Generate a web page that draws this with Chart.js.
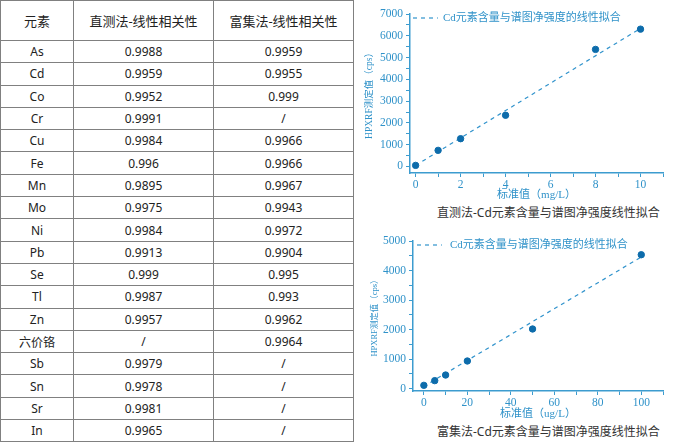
<!DOCTYPE html>
<html lang="zh-CN">
<head>
<meta charset="utf-8">
<title>Cd 线性拟合</title>
<script src="https://cdn.jsdelivr.net/npm/chart.js@4.4.1/dist/chart.umd.min.js"></script>
<style>
    html, body {
        margin: 0;
        padding: 0;
        background: #ffffff;
    }
    body {
        position: relative;
        width: 681px;
        height: 444px;
        overflow: hidden;
        font-family: 'Noto Sans', 'Noto Sans CJK SC', sans-serif;
        color: #222222;
    }
    #corrTable {
        position: absolute;
        left: 0;
        top: 0;
        border-collapse: collapse;
        table-layout: fixed;
        font-size: 12px;
    }
    #corrTable th, #corrTable td {
        border: 1px solid #808080;
        text-align: center;
        padding: 0;
        font-weight: normal;
    }
    #corrTable th {
        height: 39px;
        font-size: 13px;
    }
    #corrTable td {
        height: 21.3px;
    }
    .chart-box {
        position: absolute;
        left: 362px;
        width: 319px;
    }
    .caption {
        position: absolute;
        left: 437px;
        width: 200px;
        text-align: center;
        font-size: 12px;
        color: #333333;
        white-space: nowrap;
        line-height: 14px;
    }
</style>
</head>
<body>

<table id="corrTable">
    <colgroup>
        <col style="width:73px">
        <col style="width:140px">
        <col style="width:140px">
    </colgroup>
    <thead></thead>
    <tbody></tbody>
</table>

<div class="chart-box" style="top:0; height:202px;"><canvas id="directChart"></canvas></div>
<div class="caption" style="top:206px;">直测法-Cd元素含量与谱图净强度线性拟合</div>

<div class="chart-box" style="top:225px; height:196px;"><canvas id="enrichChart"></canvas></div>
<div class="caption" style="top:425px;">富集法-Cd元素含量与谱图净强度线性拟合</div>

<script>
// Table: linear correlation per element
const tableHeader = ['元素', '直测法-线性相关性', '富集法-线性相关性'];
const elements = ['As', 'Cd', 'Co', 'Cr', 'Cu', 'Fe', 'Mn', 'Mo', 'Ni', 'Pb', 'Se', 'Tl', 'Zn', '六价铬', 'Sb', 'Sn', 'Sr', 'In'];
const directR = ['0.9988', '0.9959', '0.9952', '0.9991', '0.9984', '0.996', '0.9895', '0.9975', '0.9984', '0.9913', '0.999', '0.9987', '0.9957', '/', '0.9979', '0.9978', '0.9981', '0.9965'];
const enrichR = ['0.9959', '0.9955', '0.999', '/', '0.9966', '0.9966', '0.9967', '0.9943', '0.9972', '0.9904', '0.995', '0.993', '0.9962', '0.9964', '/', '/', '/', '/'];

// Direct method (mg/L vs cps)
const directStd = [0, 1, 2, 4, 8, 10];
const directCps = [50, 740, 1275, 2350, 5375, 6305];
const directFitX = [0.3, 10];
const directFitY = [240, 6340];
const directXTicks = [0, 1, 2, 3, 4, 5, 6, 7, 8, 9, 10, 11];
const directYTicks = [0, 500, 1000, 1500, 2000, 2500, 3000, 3500, 4000, 4500, 5000, 5500, 6000, 6500, 7000];

// Enrichment method (ug/L vs cps)
const enrichStd = [0, 5, 10, 20, 50, 100];
const enrichCps = [112, 271, 461, 936, 2020, 4535];
const enrichFitX = [3, 100];
const enrichFitY = [210, 4460];
const enrichXTicks = [0, 10, 20, 30, 40, 50, 60, 70, 80, 90, 100, 110];
const enrichYTicks = [0, 500, 1000, 1500, 2000, 2500, 3000, 3500, 4000, 4500, 5000];

const fitLabel = 'Cd元素含量与谱图净强度的线性拟合';

const axisColor = '#3c9ccf';
const textColor = '#2f92c9';
const pointColor = '#0d6cab';
const lineColor = '#3193cc';
const serif = "'Liberation Serif', 'Noto Sans CJK SC', serif";

function buildTable() {
    const table = document.getElementById('corrTable');
    const headRow = document.createElement('tr');
    tableHeader.forEach(text => {
        const th = document.createElement('th');
        th.textContent = text;
        headRow.appendChild(th);
    });
    table.tHead.appendChild(headRow);

    elements.forEach((el, i) => {
        const tr = document.createElement('tr');
        [el, directR[i], enrichR[i]].forEach(text => {
            const td = document.createElement('td');
            td.textContent = text;
            tr.appendChild(td);
        });
        table.tBodies[0].appendChild(tr);
    });
}

// draws the legend inside the plot area, top-left, from the fit dataset
const insideLegend = {
    id: 'insideLegend',
    afterDraw(chart, args, opts) {
        const ds = chart.data.datasets.find(d => d.showLine);
        if (!ds) return;
        const { ctx, chartArea } = chart;
        const x = chartArea.left + opts.offsetX;
        const y = chartArea.top + opts.offsetY;
        ctx.save();
        ctx.strokeStyle = ds.borderColor;
        ctx.lineWidth = ds.borderWidth;
        ctx.setLineDash(ds.borderDash);
        ctx.beginPath();
        ctx.moveTo(x, y);
        ctx.lineTo(x + 25, y);
        ctx.stroke();
        ctx.setLineDash([]);
        ctx.fillStyle = textColor;
        ctx.font = '11px ' + serif;
        ctx.textBaseline = 'middle';
        ctx.fillText(ds.label, x + opts.textGap, y);
        ctx.restore();
    }
};

function makeFitChart(canvasId, cfg) {
    const points = cfg.xs.map((x, i) => ({ x: x, y: cfg.ys[i] }));
    const fit = cfg.fitX.map((x, i) => ({ x: x, y: cfg.fitY[i] }));

    return new Chart(document.getElementById(canvasId), {
        type: 'scatter',
        data: {
            datasets: [{
                label: '测定值',
                data: points,
                backgroundColor: pointColor,
                borderColor: pointColor,
                pointRadius: 3.2,
                pointHoverRadius: 3.2
            }, {
                label: fitLabel,
                data: fit,
                showLine: true,
                borderColor: lineColor,
                borderWidth: 1.2,
                borderDash: [4, 4],
                pointRadius: 0,
                fill: false
            }]
        },
        options: {
            responsive: true,
            maintainAspectRatio: false,
            animation: false,
            layout: { padding: cfg.padding },
            plugins: {
                legend: { display: false },
                tooltip: { enabled: false },
                insideLegend: cfg.legend
            },
            scales: {
                x: {
                    type: 'linear',
                    min: cfg.xMin,
                    max: cfg.xMax,
                    afterBuildTicks: s => { s.ticks = cfg.xTicks.map(v => ({ value: v })); },
                    afterFit: s => { s.height = cfg.xHeight; },
                    ticks: {
                        autoSkip: false,
                        maxRotation: 0,
                        padding: 1,
                        color: textColor,
                        font: { family: serif, size: 11.5 },
                        callback: v => (v % cfg.xLabelEvery === 0 ? String(v) : '')
                    },
                    grid: { drawOnChartArea: false, tickLength: 4, color: axisColor },
                    border: { color: axisColor, width: 1.5 },
                    title: {
                        display: true,
                        text: cfg.xTitle,
                        color: textColor,
                        padding: 0,
                        font: { family: serif, size: 11 }
                    }
                },
                y: {
                    min: cfg.yMin,
                    max: cfg.yMax,
                    afterBuildTicks: s => { s.ticks = cfg.yTicks.map(v => ({ value: v })); },
                    afterFit: s => { s.width = cfg.yWidth; },
                    ticks: {
                        autoSkip: false,
                        padding: 3,
                        color: textColor,
                        font: { family: serif, size: 11.5 },
                        callback: v => (v % 1000 === 0 ? String(v) : '')
                    },
                    grid: { drawOnChartArea: false, tickLength: 4, color: axisColor },
                    border: { color: axisColor, width: 1.5 },
                    title: {
                        display: true,
                        text: 'HPXRF测定值（cps）',
                        color: textColor,
                        padding: { top: cfg.yTitlePad, bottom: 0 },
                        font: { family: serif, size: cfg.yTitleSize }
                    }
                }
            }
        },
        plugins: [insideLegend]
    });
}

document.addEventListener('DOMContentLoaded', () => {
    buildTable();

    makeFitChart('directChart', {
        xs: directStd, ys: directCps, fitX: directFitX, fitY: directFitY,
        xTicks: directXTicks, yTicks: directYTicks,
        xMin: -0.25, xMax: 11, xLabelEvery: 2,
        yMin: -300, yMax: 7000,
        xTitle: '标准值（mg/L）',
        padding: { top: 14, right: 18, bottom: 0, left: 0 },
        xHeight: 29, yWidth: 48, yTitlePad: 1.5, yTitleSize: 9.5,
        legend: { offsetX: 3, offsetY: 4, textGap: 30 }
    });

    makeFitChart('enrichChart', {
        xs: enrichStd, ys: enrichCps, fitX: enrichFitX, fitY: enrichFitY,
        xTicks: enrichXTicks, yTicks: enrichYTicks,
        xMin: -5, xMax: 110, xLabelEvery: 20,
        yMin: -80, yMax: 5000,
        xTitle: '标准值（ug/L）',
        padding: { top: 16, right: 18, bottom: 0, left: 0 },
        xHeight: 30, yWidth: 51, yTitlePad: 8, yTitleSize: 8.5,
        legend: { offsetX: 4, offsetY: 4, textGap: 33 }
    });
});
</script>
</body>
</html>
